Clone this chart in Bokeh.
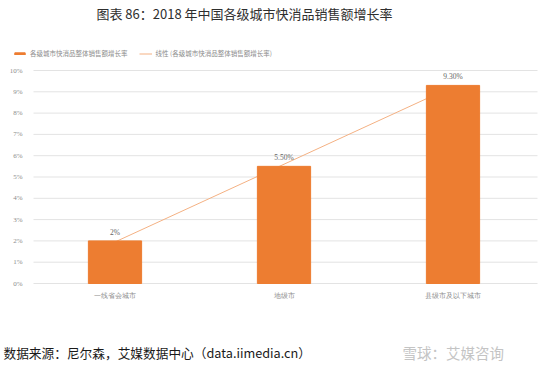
from bokeh.plotting import figure
from bokeh.models import (Range1d, Legend, LegendItem, LabelSet, Label, ColumnDataSource)
from bokeh.embed import file_html
from bokeh.resources import INLINE

FONT = "Noto Sans CJK SC"

title_text = "图表 86：2018 年中国各级城市快消品销售额增长率"
source_text = "数据来源：尼尔森，艾媒数据中心（data.iimedia.cn）"
watermark_text = "雪球：艾媒咨询"

categories = ["一线省会城市", "地级市", "县级市及以下城市"]
growth = [2.0, 5.5, 9.3]
growth_labels = ["2%", "5.50%", "9.30%"]
trend = [1.95, 5.6, 9.25]
series_name = "各级城市快消品整体销售额增长率"
trend_name = "线性 (各级城市快消品整体销售额增长率)"
y_ticks = [0, 1, 2, 3, 4, 5, 6, 7, 8, 9, 10]
y_tick_labels = ["0%", "1%", "2%", "3%", "4%", "5%", "6%", "7%", "8%", "9%", "10%"]

# ---- layout (pixels) ----
W, H = 548, 367
PLOT_L, PLOT_R = 30, 537        # plot area left/right edge on canvas
PLOT_T, PLOT_B = 70, 283        # plot area top (10%) / bottom (0%)
BAND = (PLOT_R - PLOT_L) / len(categories)
PX_PER_UNIT = (PLOT_B - PLOT_T) / (y_ticks[-1] - y_ticks[0])

x_start = -0.5 - PLOT_L / BAND
x_end = len(categories) - 0.5 + (W - PLOT_R) / BAND
y_start = y_ticks[0] - (H - PLOT_B) / PX_PER_UNIT
y_end = y_ticks[-1] + PLOT_T / PX_PER_UNIT

xs = list(range(len(categories)))
src = ColumnDataSource(dict(x=xs, cat=categories, val=growth, lab=growth_labels, tr=trend,
                            zero=[0] * len(categories)))
grid_src = ColumnDataSource(dict(y=y_ticks, lab=y_tick_labels,
                                 x0=[-0.5 + 3 / BAND] * len(y_ticks),
                                 x1=[len(categories) - 0.5] * len(y_ticks),
                                 xl=[-0.5] * len(y_ticks)))

p = figure(width=W, height=H, output_backend="svg", toolbar_location=None,
           x_range=Range1d(x_start, x_end), y_range=Range1d(y_start, y_end),
           x_axis_type=None, y_axis_type=None, min_border=0,
           background_fill_color="white", border_fill_color="white")
p.outline_line_color = None
p.grid.visible = False

# horizontal gridlines at the y ticks
p.segment(x0="x0", x1="x1", y0="y", y1="y", source=grid_src,
          line_color="#E3E3E3", line_width=1)

# y tick labels
p.add_layout(LabelSet(x="xl", y="y", text="lab", source=grid_src, x_offset=-8,
                      text_align="right", text_baseline="middle", text_font=FONT,
                      text_font_size="7px", text_color="#8C8C8C"))

line_r = p.line(x="x", y="tr", source=src, line_color="#F4B183", line_width=1)
bar_r = p.vbar(x="x", top="val", width=0.315, source=src,
               fill_color="#ED7D31", line_color="#ED7D31")

# category labels
p.add_layout(LabelSet(x="x", y="zero", text="cat", source=src, y_offset=-12,
                      text_align="center", text_baseline="middle", text_font=FONT,
                      text_font_size="7px", text_color="#8C8C8C"))

# value labels
p.add_layout(LabelSet(x="x", y="val", text="lab", source=src, y_offset=4,
                      text_align="center", text_baseline="bottom", text_font=FONT,
                      text_font_size="7.5px", text_color="#666666"))

legend = Legend(items=[LegendItem(label=series_name, renderers=[bar_r]),
                       LegendItem(label=trend_name, renderers=[line_r])],
                orientation="horizontal", location=(13, H - 58),
                glyph_width=13, glyph_height=3, label_height=6, label_standoff=4,
                spacing=11, padding=0, margin=0, border_line_color=None,
                background_fill_alpha=0, label_text_font=FONT,
                label_text_font_size="6.5px", label_text_color="#8C8C8C")
p.add_layout(legend, "center")

p.add_layout(Label(x=244, y=H - 13, x_units="screen", y_units="screen", text=title_text,
                   text_align="center", text_baseline="middle", text_font=FONT,
                   text_font_size="13px", text_color="#2E2E2E"))
p.add_layout(Label(x=3, y=H - 352, x_units="screen", y_units="screen", text=source_text,
                   text_align="left", text_baseline="middle", text_font=FONT,
                   text_font_size="12.7px", text_color="#1A1A1A"))
p.add_layout(Label(x=402, y=H - 352, x_units="screen", y_units="screen", text=watermark_text,
                   text_align="left", text_baseline="middle", text_font=FONT,
                   text_font_size="14.5px", text_color="#C4C4C4"))

open("out.html", "w").write(file_html(p, INLINE))
